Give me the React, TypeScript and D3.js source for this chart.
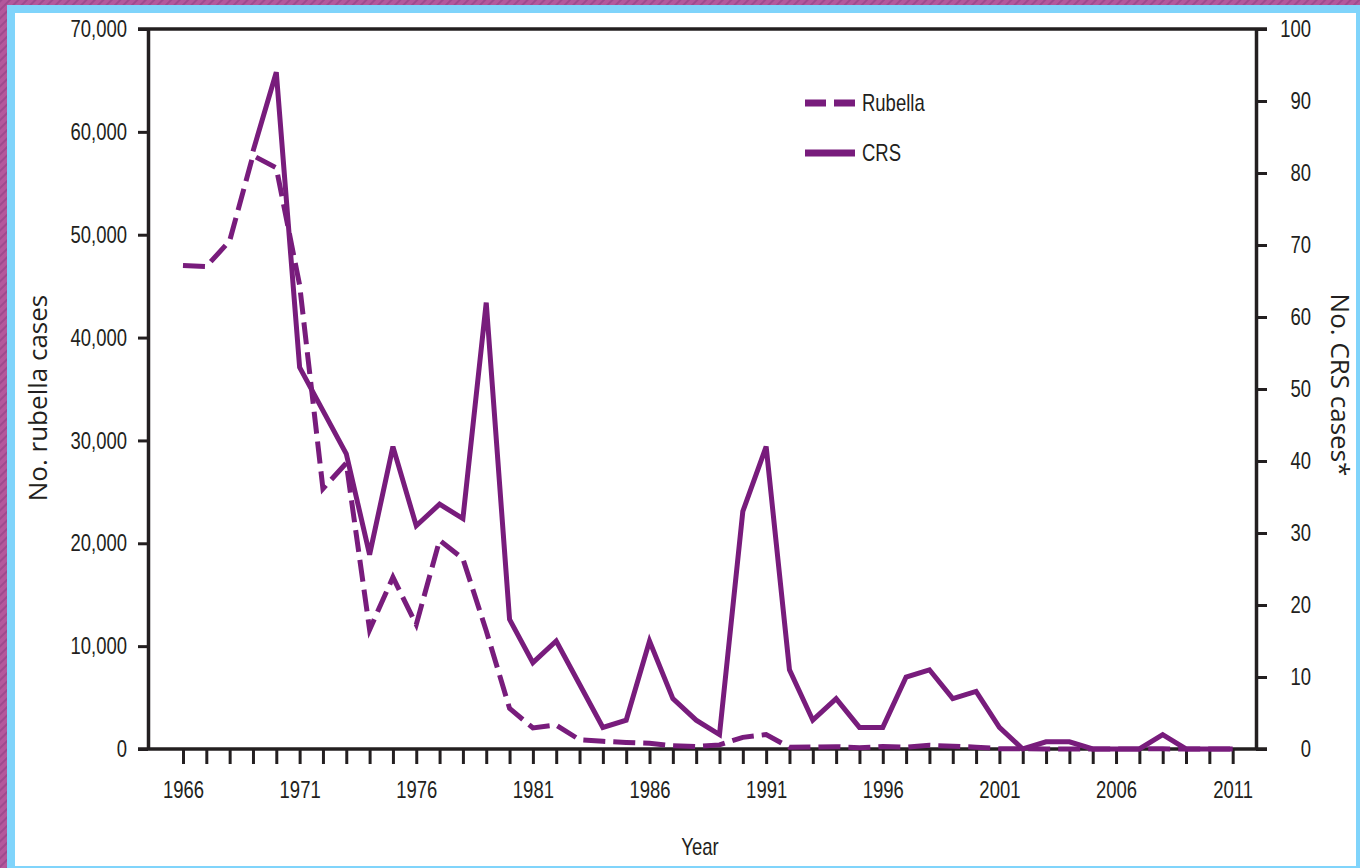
import React, { useRef, useEffect } from 'react';
import * as d3 from 'd3';

// Reported rubella cases by year, 1966-2011 (left axis)
const rubellaYears = d3.range(1966, 2012);
const rubellaCases = [
  47000, 46900, 49400, 57700, 56500, 45100, 25300, 27800, 11600, 16700,
  12100, 20300, 18500, 11500, 3950, 2050, 2330, 900, 750, 630,
  550, 310, 230, 400, 1130, 1400, 160, 190, 230, 130,
  240, 180, 360, 270, 180, 25, 20, 7, 10, 11,
  11, 12, 16, 3, 5, 4,
];

// CRS cases by year, 1969-2011 (right axis)
const crsYears = d3.range(1969, 2012);
const crsCases = [
  83, 94, 53, 47, 41, 27, 42, 31, 34, 32,
  62, 18, 12, 15, 9, 3, 4, 15, 7, 4,
  2, 33, 42, 11, 4, 7, 3, 3, 10, 11,
  7, 8, 3, 0, 1, 1, 0, 0, 0, 2,
  0, 0, 0,
];

const leftTicks = d3.range(0, 70001, 10000);
const rightTicks = d3.range(0, 101, 10);
const yearLabels = [1966, 1971, 1976, 1981, 1986, 1991, 1996, 2001, 2006, 2011];

const W = 1360;
const H = 868;
const PURPLE = '#781c7c';
const INK = '#231f20';
const LABEL_FONT = '"Liberation Sans", Arial, sans-serif';
const TITLE = '"Open Sans", "Liberation Sans", sans-serif';

// squeeze text horizontally so it looks like the condensed face of the original
const condense = (sel: any, factor = 0.77) => {
  sel.each(function (this: SVGTextElement) {
    const len = this.getComputedTextLength();
    if (len > 0) {
      d3.select(this)
        .attr('textLength', len * factor)
        .attr('lengthAdjust', 'spacingAndGlyphs');
    }
  });
};

const RubellaChart = () => {
  const svgRef = useRef<SVGSVGElement>(null);

  useEffect(() => {
    const svg = d3.select(svgRef.current);
    svg.selectAll('*').remove();

    // frame: striped purple edge, light blue border, white panel
    const defs = svg.append('defs');
    const pat = defs.append('pattern')
      .attr('id', 'stripes')
      .attr('width', 6)
      .attr('height', 6)
      .attr('patternUnits', 'userSpaceOnUse')
      .attr('patternTransform', 'rotate(45)');
    pat.append('rect').attr('width', 6).attr('height', 6).attr('fill', '#b4589c');
    pat.append('rect').attr('width', 2).attr('height', 6).attr('fill', '#9f4a8e');

    svg.append('rect').attr('width', W).attr('height', H).attr('fill', 'url(#stripes)');
    svg.append('rect').attr('x', 7).attr('y', 5).attr('width', W - 7).attr('height', H - 5).attr('fill', '#80d4fb');
    svg.append('rect').attr('x', 15).attr('y', 13).attr('width', W - 19).attr('height', H - 15).attr('fill', '#ffffff');

    // plot area
    const left = 148, right = 1256, top = 29, bottom = 749;

    const x = d3.scaleLinear().domain([1964.5, 2012]).range([left, right]);
    const yL = d3.scaleLinear().domain([0, 70000]).range([bottom, top]);
    const yR = d3.scaleLinear().domain([0, 100]).range([bottom, top]);

    const g = svg.append('g');

    // Left axis
    const la = g.append('g')
      .attr('transform', `translate(${left},0)`)
      .call(d3.axisLeft(yL).tickValues(leftTicks).tickSize(10).tickSizeOuter(0).tickPadding(11).tickFormat(d3.format(',')));

    // Right axis
    const ra = g.append('g')
      .attr('transform', `translate(${right},0)`)
      .call(d3.axisRight(yR).tickValues(rightTicks).tickSize(11).tickSizeOuter(0).tickPadding(44));
    ra.selectAll('text').attr('text-anchor', 'end');

    // Bottom axis
    const ba = g.append('g')
      .attr('transform', `translate(0,${bottom})`)
      .call(d3.axisBottom(x).tickValues(rubellaYears).tickSize(15).tickSizeOuter(0).tickPadding(17)
        .tickFormat((d) => (yearLabels.includes(+d) ? String(d) : '')));
    ba.select('.domain').remove();

    [la, ra, ba].forEach((a) => {
      a.select('.domain').attr('stroke', INK).attr('stroke-width', 3.5);
      a.selectAll('.tick line').attr('stroke', INK).attr('stroke-width', 3);
      a.selectAll('text')
        .attr('fill', INK)
        .style('font-family', LABEL_FONT)
        .style('font-size', '24px')
        .call(condense);
    });

    // top and bottom frame lines
    g.append('line')
      .attr('x1', 138).attr('x2', 1267).attr('y1', top).attr('y2', top)
      .attr('stroke', INK).attr('stroke-width', 3.5);
    g.append('line')
      .attr('x1', 138).attr('x2', 1267).attr('y1', bottom).attr('y2', bottom)
      .attr('stroke', INK).attr('stroke-width', 3.5);

    // Rubella (dashed)
    g.append('path')
      .datum(rubellaCases)
      .attr('fill', 'none')
      .attr('stroke', PURPLE)
      .attr('stroke-width', 5)
      .attr('stroke-dasharray', '22,8')
      .attr('stroke-linejoin', 'miter')
      .attr('d', d3.line<number>()
        .x((d, i) => x(rubellaYears[i]))
        .y((d) => yL(d)));

    // CRS (solid)
    g.append('path')
      .datum(crsCases)
      .attr('fill', 'none')
      .attr('stroke', PURPLE)
      .attr('stroke-width', 5)
      .attr('stroke-linejoin', 'miter')
      .attr('d', d3.line<number>()
        .x((d, i) => x(crsYears[i]))
        .y((d) => yR(d)));

    // Legend
    const legend = [
      { label: 'Rubella', dash: '21,8', y: 103 },
      { label: 'CRS', dash: null, y: 153 },
    ];
    const lg = g.append('g');
    legend.forEach((it) => {
      lg.append('line')
        .attr('x1', 805).attr('x2', 855).attr('y1', it.y).attr('y2', it.y)
        .attr('stroke', PURPLE).attr('stroke-width', 7)
        .attr('stroke-dasharray', it.dash);
      lg.append('text')
        .attr('x', 862).attr('y', it.y + 8)
        .attr('fill', INK)
        .style('font-family', LABEL_FONT)
        .style('font-size', '24px')
        .text(it.label)
        .call(condense);
    });

    // Axis titles
    g.append('text')
      .attr('transform', 'translate(47,398) rotate(-90)')
      .attr('text-anchor', 'middle')
      .attr('fill', INK)
      .style('font-family', TITLE)
      .style('font-size', '26px')
      .text('No. rubella cases');

    g.append('text')
      .attr('transform', 'translate(1331,385) rotate(90)')
      .attr('text-anchor', 'middle')
      .attr('fill', INK)
      .style('font-family', TITLE)
      .style('font-size', '26px')
      .text('No. CRS cases*');

    g.append('text')
      .attr('x', 700).attr('y', 855)
      .attr('text-anchor', 'middle')
      .attr('fill', INK)
      .style('font-family', LABEL_FONT)
      .style('font-size', '24px')
      .text('Year')
      .call(condense);
  }, []);

  return (
    <svg
      ref={svgRef}
      width={W}
      height={H}
      style={{ position: 'absolute', left: 0, top: 0, display: 'block' }}
    />
  );
};

export default function App() {
  return <RubellaChart />;
}
